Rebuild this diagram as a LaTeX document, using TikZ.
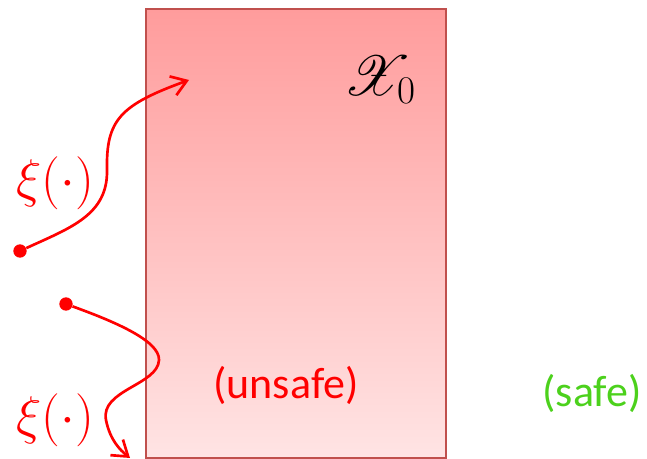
\documentclass[tikz,border=0pt]{standalone}
\usepackage{fontspec}
\setmainfont{Carlito}
\usepackage{amsmath}
\usepackage{mathrsfs}
\usepackage{graphicx}
\usepackage{xcolor}
\definecolor{UnsafeRed}{HTML}{FF0000}
\definecolor{SafeGreen}{HTML}{4CD11C}
\definecolor{BoxEdge}{HTML}{C0504D}
\definecolor{BoxTop}{HTML}{FF9C9C}
\definecolor{BoxBottom}{HTML}{FFE4E4}
\usepackage{tikz}
\usetikzlibrary{arrows.meta, positioning}
\tikzstyle{region} = [rectangle, draw=BoxEdge, line width=1.4pt, top color=BoxTop, bottom color=BoxBottom]
\tikzstyle{dot} = [circle, fill=UnsafeRed, inner sep=0pt, minimum size=10pt]
\tikzstyle{traj} = [line width=2pt, color=UnsafeRed, -{Straight Barb[length=11pt,width=15pt,line width=2pt]}]
\tikzstyle{word} = [font=\fontsize{33}{38}\selectfont, inner sep=0pt]
\tikzstyle{xilabel} = [text=UnsafeRed, font=\fontsize{24}{28}\selectfont, inner sep=0pt]

\begin{document}
\begin{tikzpicture}[x=0.75pt, y=-0.75pt]
        \useasboundingbox (0,0) rectangle (647,459);
        % Region
        \node [region, minimum width=225pt, minimum height=336.75pt, anchor=north west] (box) at (145,8) {};
        \node [font=\fontsize{24}{28}\selectfont, inner sep=0pt] (x0) at (380,80) {\scalebox{1.7}{$\mathscr{X}_0$}};
        \node [word, text=UnsafeRed] (unsafe) at (286,385) {(unsafe)};
        \node [word, text=SafeGreen] (safe) at (592,393) {(safe)};

        % Trajectories
        \node [dot] (p1) at (20,251) {};
        \node [dot] (p2) at (66,304) {};
        \coordinate (q1) at (189,80);
        \coordinate (q2) at (130,458);
        \draw [traj] (p1) .. controls (70,228) and (108,215) .. (107,170)
                          .. controls (106,120) and (120,105) .. (q1);
        \draw [traj] (p2) .. controls (110,320) and (160,340) .. (159,360)
                          .. controls (158,385) and (100,390) .. (106,420)
                          .. controls (110,440) and (120,450) .. (q2);

        % Labels
        \node [xilabel] (xi1) at (55,183) {\scalebox{1.6}{$\xi(\cdot)$}};
        \node [xilabel] (xi2) at (55,420) {\scalebox{1.6}{$\xi(\cdot)$}};
    \end{tikzpicture}
\end{document}
